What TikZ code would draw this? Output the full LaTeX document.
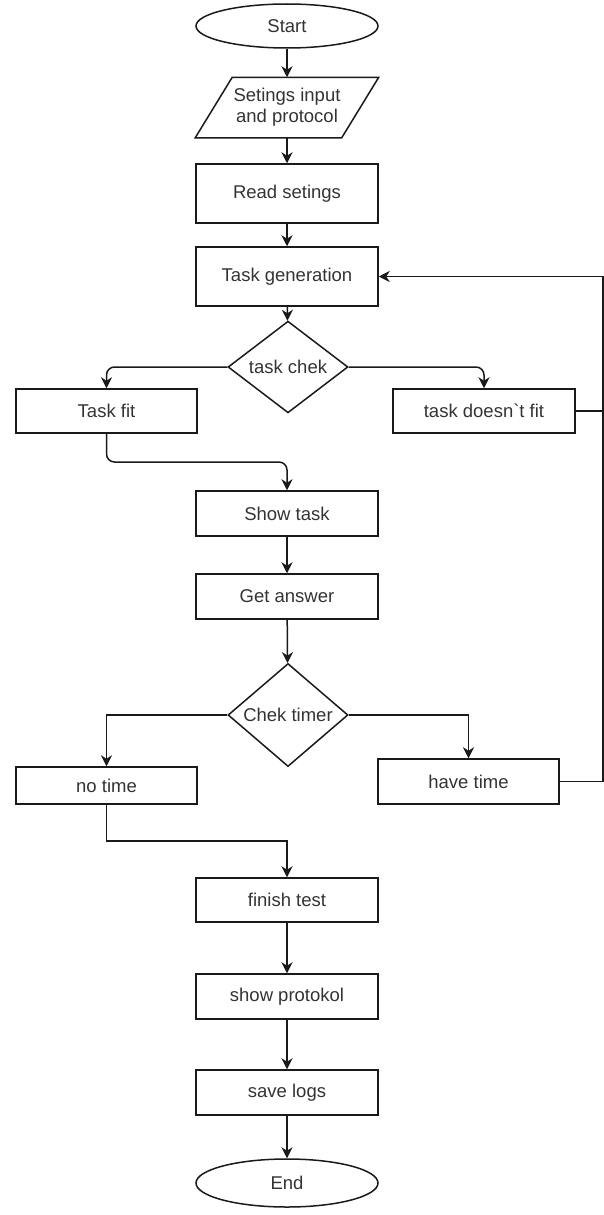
\documentclass[tikz,border=0pt]{standalone}
\usepackage{fontspec}
\setmainfont{Liberation Sans}
\usetikzlibrary{shapes.geometric,arrows.meta,calc}
\definecolor{ln}{HTML}{1A1A1A}
\definecolor{tx}{HTML}{333333}
\tikzset{
  base/.style={draw=ln, line width=1.5pt, text=tx, inner sep=0pt, font=\fontsize{18.5}{21}\selectfont, align=center},
  box/.style={base, rectangle, minimum width=182pt},
  term/.style={base, ellipse, minimum width=182pt},
  dec/.style={base, diamond, minimum width=120pt},
  arr/.style={draw=ln, line width=1.5pt, -{Stealth[length=11pt,width=11pt,inset=3.5pt]}},
  ln/.style={draw=ln, line width=1.5pt}
}
\begin{document}
\begin{tikzpicture}[x=1pt,y=-1pt]
\useasboundingbox (0,0) rectangle (604,1215);
\node[term, minimum height=44pt] (start) at (287,26) {Start};
\node[base, draw=none, minimum width=182pt, minimum height=59pt] (input) at (287,107.5) {Setings input\\and protocol};
\draw[ln] (input.south west) -- ($(input.north west)+(37,0)$) -- (input.north east) -- ($(input.south east)+(-37,0)$) -- cycle;
\node[box, minimum height=59pt] (read) at (287,193.5) {Read setings};
\node[box, minimum height=59pt] (gen) at (287,276.5) {Task generation};
\node[dec, minimum height=74pt] (check) at (288,367) {task chek};
\node[box, minimum width=181pt, minimum height=44pt] (fit) at (106.5,411) {Task fit};
\node[box, minimum height=44pt] (nofit) at (484,411) {task doesn\textasciigrave t fit};
\node[box, minimum height=45pt] (show) at (287,513.5) {Show task};
\node[box, minimum height=45pt] (answer) at (287,596.5) {Get answer};
\node[dec, minimum height=88pt] (timer) at (288,715) {Chek timer};
\node[box, minimum width=181pt, minimum height=37pt] (notime) at (106.5,785.5) {no time};
\node[box, minimum width=181pt, minimum height=45pt] (have) at (468.5,781.5) {have time};
\node[box, minimum height=44pt] (finish) at (287,900) {finish test};
\node[box, minimum height=45pt] (proto) at (287,996.5) {show protokol};
\node[box, minimum height=45pt] (logs) at (287,1092.5) {save logs};
\node[term, minimum height=48pt] (end) at (287,1183) {End};
\coordinate (rail) at (603,781.5);
\draw[arr] (start) -- (input);
\draw[arr] (input) -- (read);
\draw[arr] (read) -- (gen);
\draw[arr] (gen) -- (check);
\draw[arr, rounded corners=8pt] (check.west) -| (fit.north);
\draw[arr, rounded corners=8pt] (check.east) -| (nofit.north);
\draw[arr, rounded corners=8pt] (fit.south) |- ($(fit.south)!0.5!(show.north)$) -| (show.north);
\draw[arr] (show) -- (answer);
\draw[arr] (answer) -- (timer);
\draw[arr] (timer.west) -| (notime.north);
\draw[arr] (timer.east) -| (have.north);
\draw[arr] (notime.south) |- ($(notime.south)!0.5!(finish.north)$) -| (finish.north);
\draw[arr] (finish) -- (proto);
\draw[arr] (proto) -- (logs);
\draw[arr] (logs) -- (end);
\draw[arr] (have.east) -- (rail) |- (gen.east);
\draw[ln] (nofit.east) -- (nofit.east -| rail);
\end{tikzpicture}
\end{document}
